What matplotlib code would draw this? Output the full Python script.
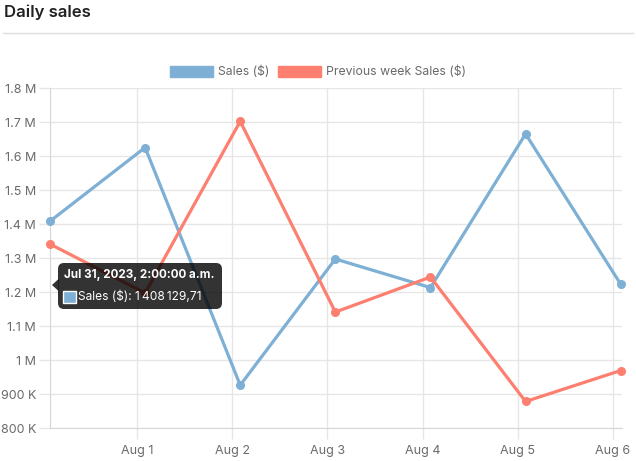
import pandas as pd
import matplotlib.pyplot as plt
from matplotlib.patches import FancyBboxPatch, Polygon, Rectangle, Patch
from matplotlib.ticker import FuncFormatter

plt.rcParams['font.family'] = ['Inter', 'DejaVu Sans']

# data
dates = pd.date_range('2023-07-31 02:00', periods=7, freq='D')
sales = [1408129.71, 1625000, 926000, 1297000, 1213000, 1665000, 1223000]
prev_sales = [1341000, 1197000, 1702000, 1141000, 1244000, 878000, 969000]
tick_days = pd.date_range('2023-08-01', periods=6, freq='D')
tick_labels = [f"{d:%b} {d.day}" for d in tick_days]

blue = '#7eb0d5'
red = '#fd7f6f'
grid_c = '#e6e6e6'
text_c = '#6a6a6a'

W, H = 636, 461
fig = plt.figure(figsize=(W / 100, H / 100), dpi=100)
ax = fig.add_axes([50 / W, 1 - 428 / H, 572 / W, 340 / H])

ax.plot(dates, sales, color=blue, lw=2.3, marker='o', ms=5.5, zorder=3, clip_on=False)
ax.plot(dates, prev_sales, color=red, lw=2.3, marker='o', ms=5.5, zorder=3, clip_on=False)

ax.set_xlim(dates[0], dates[-1] + pd.Timedelta(minutes=20))
ax.set_ylim(800000, 1800000)
ax.set_yticks(range(800000, 1800001, 100000))
ax.set_xticks(tick_days)
ax.set_xticklabels(tick_labels)


def fmt(v, pos):
    if v >= 1e6:
        return f"{v / 1e6:g} M"
    return f"{v / 1e3:g} K"


ax.yaxis.set_major_formatter(FuncFormatter(fmt))
ax.tick_params(colors=grid_c, labelcolor=text_c, labelsize=9, length=8, width=1)
ax.tick_params(axis='y', pad=2)
ax.tick_params(axis='x', pad=4)
ax.grid(True, color=grid_c, lw=1)
ax.set_axisbelow(True)
for s in ['top', 'right']:
    ax.spines[s].set_visible(False)
for s in ['left', 'bottom']:
    ax.spines[s].set_color('#d6d6d6')

# title and rule
fig.text(4 / W, 1 - 12 / H, 'Daily sales', fontsize=12, fontweight='semibold',
         color='#222222', va='center', ha='left')
fig.add_artist(plt.Line2D([3 / W, 633 / W], [1 - 33 / H, 1 - 33 / H], color='#dddddd', lw=1))

# legend
handles = [Patch(facecolor=blue, edgecolor=blue, label='Sales ($)'),
           Patch(facecolor=red, edgecolor=red, label='Previous week Sales ($)')]
fig.legend(handles=handles, loc='center', bbox_to_anchor=(0.5, 1 - 72 / H), ncol=2,
           frameon=False, fontsize=8.8, labelcolor=text_c, handlelength=3.5,
           handleheight=1.05, handletextpad=0.45, columnspacing=0.7)

# tooltip (display pixel coords, y from bottom)
def py(y):
    return H - y


box = FancyBboxPatch((58, py(309)), 164, 46, boxstyle='round,pad=0,rounding_size=6',
                     transform=None, facecolor=(0, 0, 0, 0.8), edgecolor='none', zorder=10)
fig.add_artist(box)
tri = Polygon([(52, py(285)), (58.5, py(279)), (58.5, py(291))], closed=True,
              transform=None, facecolor=(0, 0, 0, 0.8), edgecolor='none', zorder=10)
fig.add_artist(tri)
fig.text(64 / W, 1 - 275 / H, 'Jul 31, 2023, 2:00:00 a.m.', color='white', fontsize=8.4,
         fontweight='bold', va='center', ha='left', zorder=11)
sq = Rectangle((63, py(303)), 13, 12, transform=None, facecolor=blue,
               edgecolor='white', lw=1, zorder=11)
fig.add_artist(sq)
fig.text(78 / W, 1 - 297 / H, 'Sales ($): 1\u202f408\u202f129,71', color='white', fontsize=8.6,
         va='center', ha='left', zorder=11)

fig.savefig('out.png', dpi=100)
